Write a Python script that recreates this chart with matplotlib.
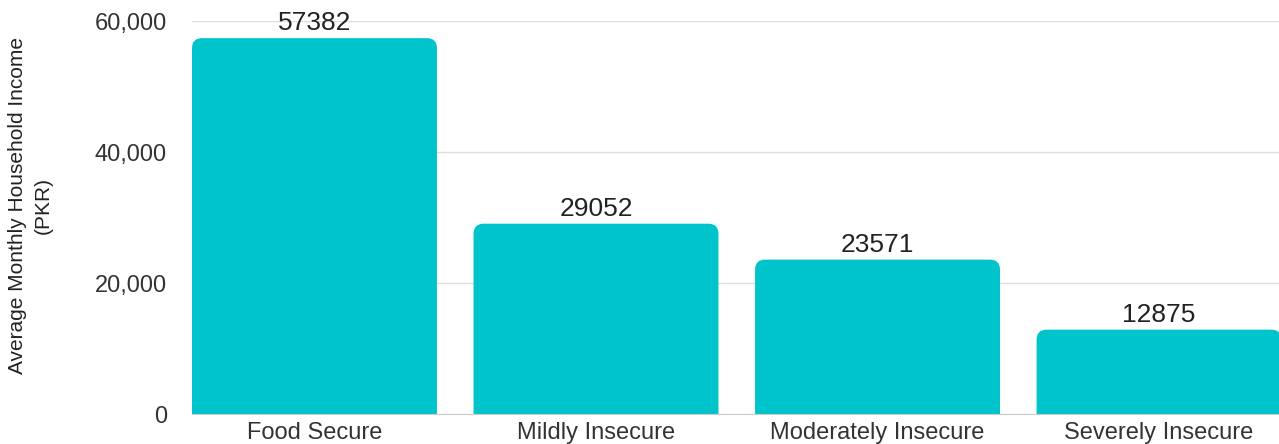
import numpy as np
import matplotlib.pyplot as plt
from matplotlib.patches import FancyBboxPatch

# ==========================
# Data
# ==========================
categories = ["Food Secure", "Mildly Insecure", "Moderately Insecure", "Severely Insecure"]
income = [57382, 29052, 23571, 12875]
yticks = [0, 20000, 40000, 60000]
ytick_labels = ["0", "20,000", "40,000", "60,000"]

bar_color = "#00C4CC"

plt.rcParams['font.family'] = ['Liberation Sans', 'DejaVu Sans']

fig = plt.figure(figsize=(12.79, 4.44), dpi=100)
ax = fig.add_axes([192/1279, 1 - 414/444, 1 - 192/1279, (414 - 21)/444])

x = np.arange(len(categories))
width = 0.87
bars = ax.bar(x, income, width=width, color=bar_color, zorder=2)

ax.set_xlim(-width/2, 3.426)
ax.set_ylim(0, 60000)

# ronde hoeken bovenaan
fig.canvas.draw()
inv = ax.transData.inverted()
p0 = inv.transform((0, 0))
p1 = inv.transform((1, 1))
dx_px = p1[0] - p0[0]
dy_px = p1[1] - p0[1]
r_px = 10
for b in bars:
    bx, by = b.get_x(), b.get_y()
    bw, bh = b.get_width(), b.get_height()
    b.set_visible(False)
    patch = FancyBboxPatch((bx, by - 2000), bw, bh + 2000,
                           boxstyle=f"round,pad=0,rounding_size={r_px*dx_px}",
                           mutation_aspect=dy_px/dx_px,
                           facecolor=bar_color, edgecolor="none", zorder=2)
    ax.add_patch(patch)
    ax.annotate(f"{int(bh)}", (bx + bw/2, bh), xytext=(0, 2), textcoords="offset points",
                ha="center", va="bottom", fontsize=19, color="#222222", annotation_clip=False)

ax.set_xticks(x)
ax.set_xticklabels(categories, fontsize=17, color="#333333")
ax.set_yticks(yticks)
ax.set_yticklabels(ytick_labels, fontsize=17, color="#333333")
ax.tick_params(axis="both", length=0)
ax.tick_params(axis="y", pad=18)
ax.tick_params(axis="x", pad=6)

ax.grid(axis="y", color="#dddddd", lw=1, zorder=0)
for s in ["left", "right", "top"]:
    ax.spines[s].set_visible(False)
ax.spines["bottom"].set_color("#cccccc")

ax.set_ylabel("Average Monthly Household Income\n(PKR)", fontsize=15,
              color="#222222", linespacing=1.45)
ax.yaxis.set_label_coords(-0.128, 0.53)

fig.savefig("out.png", dpi=100)
